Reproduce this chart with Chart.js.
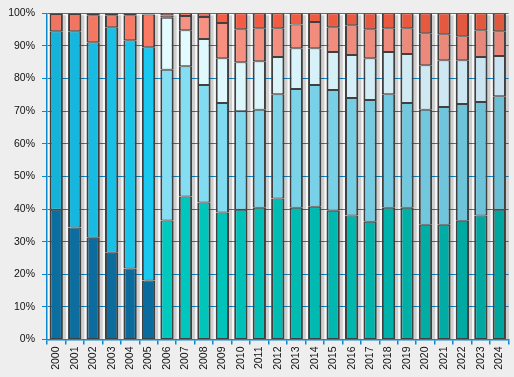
<!DOCTYPE html>
<html>
<head>
<meta charset="UTF-8">
<script src="https://cdn.jsdelivr.net/npm/chart.js"></script>
<style>
  html, body { margin: 0; padding: 0; background: #eeeeee; }
  #wrap { width: 514px; height: 377px; }
</style>
</head>
<body>
<div id="wrap"><canvas id="c" width="514" height="377"></canvas></div>
<script>
const years = ['2000','2001','2002','2003','2004','2005','2006','2007','2008','2009','2010','2011',
  '2012','2013','2014','2015','2016','2017','2018','2019','2020','2021','2022','2023','2024'];

// shares in percent, bottom to top
const seg1 = [39.8,34.3,31.2,26.6,21.8,18.1,36.5,43.8,42.0,38.9,39.8,40.4,43.2,40.4,40.7,39.5,38.0,36.1,40.4,40.4,35.2,35.2,36.4,38.0,39.8];
const seg2 = [54.7,60.2,59.9,69.1,69.9,71.5,46.2,40.0,36.0,33.6,30.2,30.0,32.0,36.4,37.3,37.0,36.0,37.3,34.8,32.1,35.2,36.1,35.8,34.8,34.8];
const seg3 = [0,0,0,0,0,0,15.9,11.0,14.1,13.7,15.0,14.9,11.4,12.5,11.3,11.6,13.2,12.8,12.9,15.0,13.7,14.3,13.4,13.8,12.3];
const seg4 = [5.3,5.3,8.3,3.7,7.7,10.0,0.7,4.4,6.8,10.8,10.1,10.1,8.8,7.3,8.0,7.6,9.1,8.9,7.3,7.9,9.8,8.0,7.4,8.2,7.6];
const seg5 = [0.2,0.2,0.6,0.6,0.6,0.4,0.7,0.8,1.1,3.0,4.9,4.6,4.6,3.4,2.7,4.3,3.7,4.9,4.6,4.6,6.1,6.4,7.0,5.2,5.5];
const yTicks = [0,10,20,30,40,50,60,70,80,90,100];

function hex(h) { return [1,3,5].map(i => parseInt(h.substr(i,2),16)); }
function mix(a, b, t) {
  const x = hex(a), y = hex(b);
  return 'rgb(' + x.map((v,i) => Math.round(v + (y[i]-v)*t)).join(',') + ')';
}
// colours: first six years one scheme, later years another, shading slightly by year
function shade(early, late) {
  return years.map((y, i) => {
    if (i < 6) return mix(early[0], early[1], i / 5);
    return mix(late[0], late[1], (i - 6) / 18);
  });
}
const cols = [
  shade(['#0c6d9f','#0b6b9c'], ['#00c9bf','#00a69e']),
  shade(['#16b3d8','#1ac8f0'], ['#84dff5','#6bc0d6']),
  shade(['#e2fcff','#e2fcff'], ['#e2fcff','#c9e4f0']),
  shade(['#ef7560','#fb7a64'], ['#fa9282','#e8877a']),
  shade(['#f05a40','#f05a40'], ['#fa5e44','#e0583e'])
];
const series = [seg1, seg2, seg3, seg4, seg5];

const shadow = {
  id: 'shadow',
  beforeDraw(chart) {
    const a = chart.chartArea, ctx = chart.ctx;
    ctx.save();
    ctx.fillStyle = '#f7f7f7';
    ctx.fillRect(a.left, a.top, a.right - a.left, a.bottom - a.top);
    ctx.restore();
  },
  beforeDatasetsDraw(chart) {
    const ctx = chart.ctx;
    const first = chart.getDatasetMeta(0).data;
    const last = chart.getDatasetMeta(series.length - 1).data;
    ctx.save();
    ctx.fillStyle = 'rgba(0,0,0,0.16)';
    first.forEach((el, i) => {
      const top = last[i].y, bot = el.base;
      ctx.fillRect(el.x - el.width / 2 + 3, top + 2, el.width, bot - top - 2);
    });
    ctx.restore();
  }
};

new Chart(document.getElementById('c'), {
  type: 'bar',
  data: {
    labels: years,
    datasets: series.map((d, k) => ({
      data: d,
      backgroundColor: cols[k],
      borderColor: '#404040',
      borderWidth: { left: 2, right: 2, top: 1, bottom: 1 },
      borderSkipped: false,
      barPercentage: 0.72,
      categoryPercentage: 1
    }))
  },
  options: {
    responsive: false,
    animation: false,
    layout: { padding: { top: 12, right: 4, left: 0, bottom: 0 } },
    plugins: { legend: { display: false }, tooltip: { enabled: false } },
    scales: {
      x: {
        stacked: true,
        afterFit: s => { s.height = 37.5; },
        grid: { offset: true, drawOnChartArea: false, drawTicks: true, tickLength: 5, color: '#0a88d0', lineWidth: 1.5 },
        border: { color: '#0a88d0', width: 1.5 },
        ticks: {
          minRotation: 90, maxRotation: 90, padding: 2, autoSkip: false,
          color: '#111', font: { family: 'Liberation Sans, Arial, sans-serif', size: 10.5 }
        }
      },
      y: {
        stacked: true,
        min: 0, max: 100,
        afterFit: s => { s.width = 47; },
        afterBuildTicks: s => { s.ticks = yTicks.map(v => ({ value: v })); },
        grid: { color: '#0a88d0', lineWidth: 1, borderDash: [2, 3], tickBorderDash: [], tickLength: 5, tickColor: '#0a88d0' },
        border: { color: '#0a88d0', width: 1.5 },
        ticks: {
          padding: 7, color: '#111',
          font: { family: 'Liberation Sans, Arial, sans-serif', size: 10.5 },
          callback: v => v + '%'
        }
      }
    }
  },
  plugins: [shadow]
});
</script>
</body>
</html>
